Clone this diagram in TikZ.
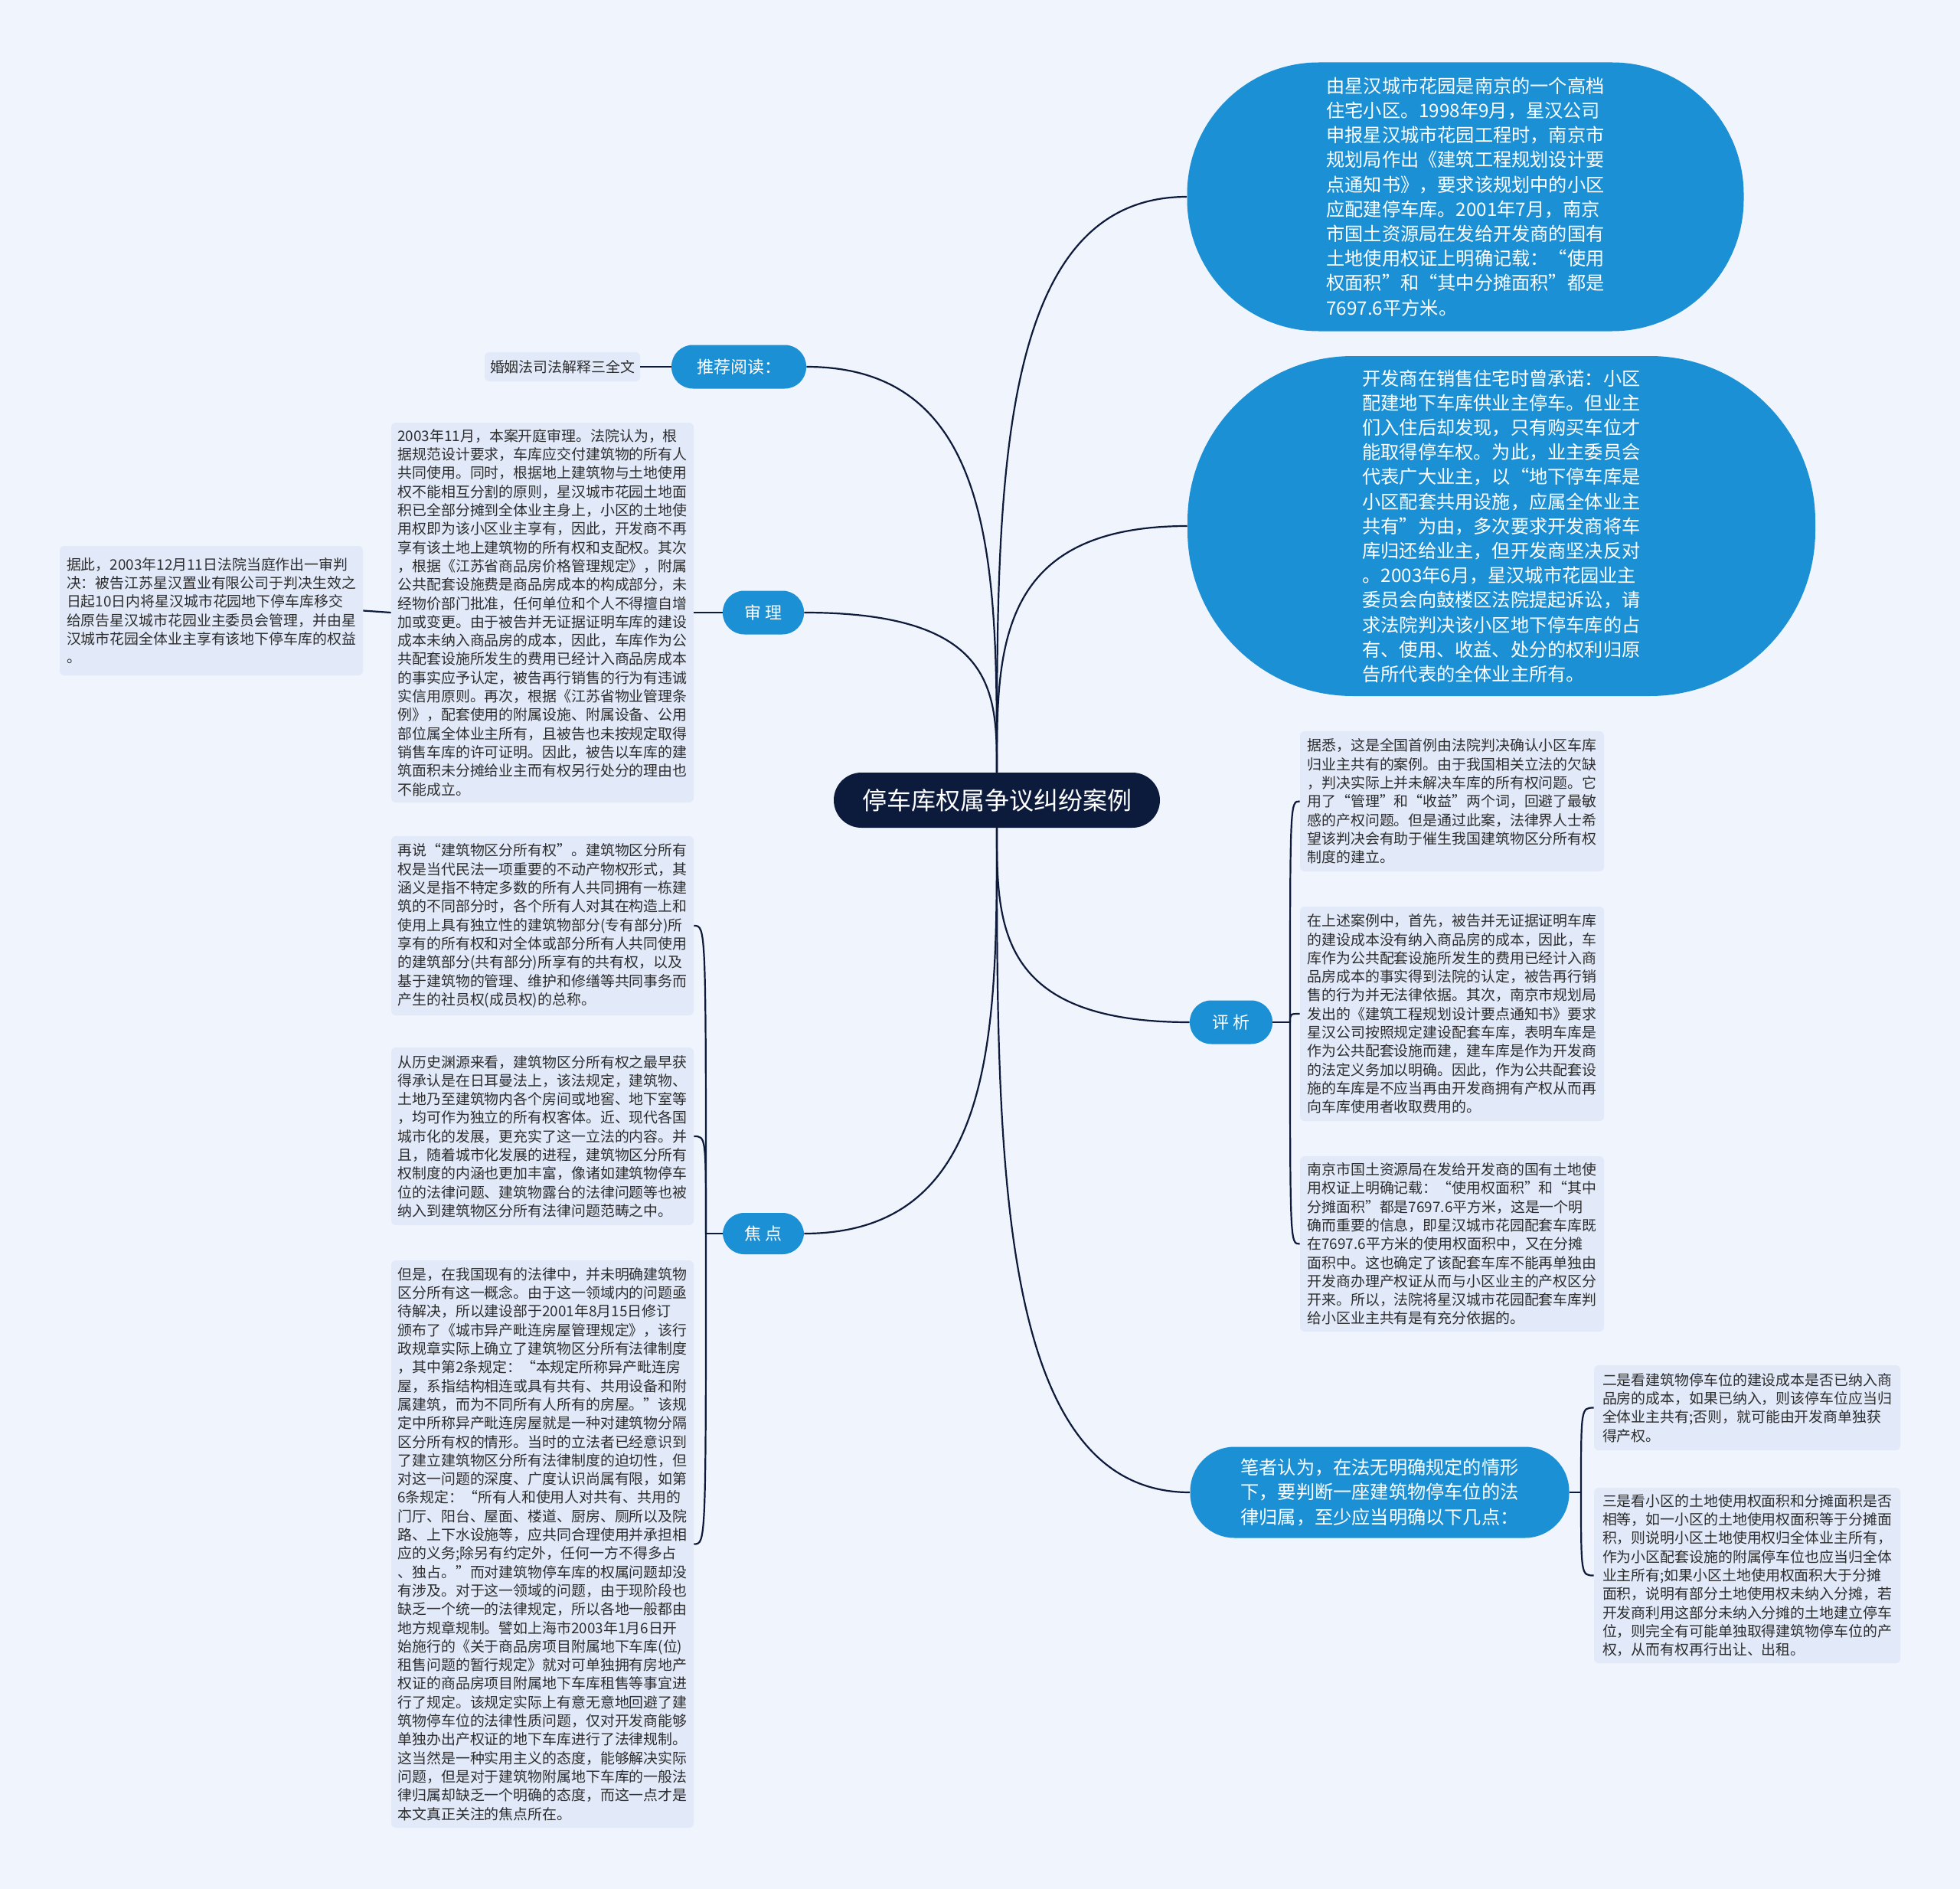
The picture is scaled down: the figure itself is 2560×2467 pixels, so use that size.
\documentclass[tikz,border=0pt]{standalone}
\usepackage{fontspec}
\setmainfont{Noto Sans CJK SC}
\usetikzlibrary{calc}
\definecolor{bgcolor}{RGB}{239,244,253}
\definecolor{cardcolor}{RGB}{226,234,250}
\definecolor{topiccolor}{RGB}{27,144,212}
\definecolor{rootcolor}{RGB}{12,26,60}
\definecolor{linkcolor}{RGB}{14,26,58}
\definecolor{inkcolor}{RGB}{45,45,45}
\tikzset{
  % central title
  rootnode/.style={fill=rootcolor, text=white, rounded corners=18pt, inner sep=0pt,
    font=\fontsize{16}{19}\selectfont},
  % blue topic pills
  topicnode/.style={fill=topiccolor, text=white, rounded corners=14pt, inner sep=0pt,
    font=\fontsize{11}{13}\selectfont},
  % large blue blobs with long text
  blobnode/.style={fill=topiccolor, text=white, inner sep=0pt, align=left,
    font=\fontsize{12.1}{16.1}\selectfont},
  % pale text cards
  card/.style={fill=cardcolor, rounded corners=3pt, inner sep=0pt, align=left,
    text=inkcolor, font=\fontsize{9.45}{12.15}\selectfont},
  % connectors
  link/.style={draw=linkcolor, line width=1.1pt},
}
\newcommand{\rootlink}[2]{%
  \draw[link] (#1) .. controls ($(#1)!0.5!(#1 |- #2)$) and (#1 |- #2) .. (#2);
}
\newcommand{\forklink}[2]{%
  \draw[link] (#1) .. controls (#1 |- #2) and (#1 |- #2) .. (#2);
}
\begin{document}
\begin{tikzpicture}[x=0.5pt, y=-0.5pt]
  \useasboundingbox (0,0) rectangle (2560,2467);
  \fill[bgcolor] (0,0) rectangle (2560,2467);

  % root
  \node[rootnode, minimum width=213pt, minimum height=36pt] (ctr) at (1302,1045) {停车库权属争议纠纷案例};

  % right side
  \node[blobnode, rounded corners=86pt, minimum width=363.5pt, minimum height=175.5pt] (b1) at (1914,257) {%
    由星汉城市花园是南京的一个高档\\
    住宅小区。1998年9月，星汉公司\\
    申报星汉城市花园工程时，南京市\\
    规划局作出《建筑工程规划设计要\\
    点通知书》，要求该规划中的小区\\
    应配建停车库。2001年7月，南京\\
    市国土资源局在发给开发商的国有\\
    土地使用权证上明确记载：“使用\\
    权面积”和“其中分摊面积”都是\\
    7697.6平方米。};
  \node[blobnode, rounded corners=108pt, minimum width=410pt, minimum height=222pt] (b2) at (1961,687) {%
    开发商在销售住宅时曾承诺：小区\\
    配建地下车库供业主停车。但业主\\
    们入住后却发现，只有购买车位才\\
    能取得停车权。为此，业主委员会\\
    代表广大业主，以“地下停车库是\\
    小区配套共用设施，应属全体业主\\
    共有”为由，多次要求开发商将车\\
    库归还给业主，但开发商坚决反对\\
    。2003年6月，星汉城市花园业主\\
    委员会向鼓楼区法院提起诉讼，请\\
    求法院判决该小区地下停车库的占\\
    有、使用、收益、处分的权利归原\\
    告所代表的全体业主所有。};
  \node[topicnode, minimum width=54pt, minimum height=28.5pt] (pj) at (1608,1335) {评 析};
  \node[blobnode, rounded corners=29pt, minimum width=247.5pt, minimum height=59.5pt] (bz) at (1802,1949) {%
    笔者认为，在法无明确规定的情形\\
    下，要判断一座建筑物停车位的法\\
    律归属，至少应当明确以下几点：};

  % cards of 评析
  \node[card, minimum width=198.5pt, minimum height=91.5pt] (pj1) at (1896.5,1046.5) {%
    据悉，这是全国首例由法院判决确认小区车库\\
    归业主共有的案例。由于我国相关立法的欠缺\\
    ，判决实际上并未解决车库的所有权问题。它\\
    用了“管理”和“收益”两个词，回避了最敏\\
    感的产权问题。但是通过此案，法律界人士希\\
    望该判决会有助于催生我国建筑物区分所有权\\
    制度的建立。};
  \node[card, minimum width=198.5pt, minimum height=140pt] (pj2) at (1896.5,1324) {%
    在上述案例中，首先，被告并无证据证明车库\\
    的建设成本没有纳入商品房的成本，因此，车\\
    库作为公共配套设施所发生的费用已经计入商\\
    品房成本的事实得到法院的认定，被告再行销\\
    售的行为并无法律依据。其次，南京市规划局\\
    发出的《建筑工程规划设计要点通知书》要求\\
    星汉公司按照规定建设配套车库，表明车库是\\
    作为公共配套设施而建，建车库是作为开发商\\
    的法定义务加以明确。因此，作为公共配套设\\
    施的车库是不应当再由开发商拥有产权从而再\\
    向车库使用者收取费用的。};
  \node[card, minimum width=198.5pt, minimum height=114.5pt] (pj3) at (1896.5,1624.5) {%
    南京市国土资源局在发给开发商的国有土地使\\
    用权证上明确记载：“使用权面积”和“其中\\
    分摊面积”都是7697.6平方米，这是一个明\\
    确而重要的信息，即星汉城市花园配套车库既\\
    在7697.6平方米的使用权面积中，又在分摊\\
    面积中。这也确定了该配套车库不能再单独由\\
    开发商办理产权证从而与小区业主的产权区分\\
    开来。所以，法院将星汉城市花园配套车库判\\
    给小区业主共有是有充分依据的。};

  % cards of 笔者认为
  \node[card, minimum width=200pt, minimum height=55.5pt] (bz1) at (2282,1838.5) {%
    二是看建筑物停车位的建设成本是否已纳入商\\
    品房的成本，如果已纳入，则该停车位应当归\\
    全体业主共有;否则，就可能由开发商单独获\\
    得产权。};
  \node[card, minimum width=200pt, minimum height=114.5pt] (bz2) at (2282,2057.5) {%
    三是看小区的土地使用权面积和分摊面积是否\\
    相等，如一小区的土地使用权面积等于分摊面\\
    积，则说明小区土地使用权归全体业主所有，\\
    作为小区配套设施的附属停车位也应当归全体\\
    业主所有;如果小区土地使用权面积大于分摊\\
    面积，说明有部分土地使用权未纳入分摊，若\\
    开发商利用这部分未纳入分摊的土地建立停车\\
    位，则完全有可能单独取得建筑物停车位的产\\
    权，从而有权再行出让、出租。};

  % left side
  \node[topicnode, minimum width=88pt, minimum height=28.5pt] (tj) at (965,479) {推荐阅读：};
  \node[card, minimum width=101.5pt, minimum height=19pt] (hy) at (734.5,479) {婚姻法司法解释三全文};
  \node[topicnode, minimum width=53pt, minimum height=28.5pt] (sl) at (997,800) {审 理};
  \node[topicnode, minimum width=53pt, minimum height=27pt] (jd) at (997,1611) {焦 点};

  % cards of 审理
  \node[card, minimum width=197.5pt, minimum height=248pt] (sl1) at (708.5,800) {%
    2003年11月，本案开庭审理。法院认为，根\\
    据规范设计要求，车库应交付建筑物的所有人\\
    共同使用。同时，根据地上建筑物与土地使用\\
    权不能相互分割的原则，星汉城市花园土地面\\
    积已全部分摊到全体业主身上，小区的土地使\\
    用权即为该小区业主享有，因此，开发商不再\\
    享有该土地上建筑物的所有权和支配权。其次\\
    ，根据《江苏省商品房价格管理规定》，附属\\
    公共配套设施费是商品房成本的构成部分，未\\
    经物价部门批准，任何单位和个人不得擅自增\\
    加或变更。由于被告并无证据证明车库的建设\\
    成本未纳入商品房的成本，因此，车库作为公\\
    共配套设施所发生的费用已经计入商品房成本\\
    的事实应予认定，被告再行销售的行为有违诚\\
    实信用原则。再次，根据《江苏省物业管理条\\
    例》，配套使用的附属设施、附属设备、公用\\
    部位属全体业主所有，且被告也未按规定取得\\
    销售车库的许可证明。因此，被告以车库的建\\
    筑面积未分摊给业主而有权另行处分的理由也\\
    不能成立。};
  \node[card, minimum width=198pt, minimum height=84.5pt] (sl2) at (276,797.5) {%
    据此，2003年12月11日法院当庭作出一审判\\
    决：被告江苏星汉置业有限公司于判决生效之\\
    日起10日内将星汉城市花园地下停车库移交\\
    给原告星汉城市花园业主委员会管理，并由星\\
    汉城市花园全体业主享有该地下停车库的权益\\
    。};

  % cards of 焦点
  \node[card, minimum width=197.5pt, minimum height=117pt] (jd1) at (708.5,1209) {%
    再说“建筑物区分所有权”。建筑物区分所有\\
    权是当代民法一项重要的不动产物权形式，其\\
    涵义是指不特定多数的所有人共同拥有一栋建\\
    筑的不同部分时，各个所有人对其在构造上和\\
    使用上具有独立性的建筑物部分(专有部分)所\\
    享有的所有权和对全体或部分所有人共同使用\\
    的建筑部分(共有部分)所享有的共有权，以及\\
    基于建筑物的管理、维护和修缮等共同事务而\\
    产生的社员权(成员权)的总称。};
  \node[card, minimum width=197.5pt, minimum height=116pt] (jd2) at (708.5,1484) {%
    从历史渊源来看，建筑物区分所有权之最早获\\
    得承认是在日耳曼法上，该法规定，建筑物、\\
    土地乃至建筑物内各个房间或地窖、地下室等\\
    ，均可作为独立的所有权客体。近、现代各国\\
    城市化的发展，更充实了这一立法的内容。并\\
    且，随着城市化发展的进程，建筑物区分所有\\
    权制度的内涵也更加丰富，像诸如建筑物停车\\
    位的法律问题、建筑物露台的法律问题等也被\\
    纳入到建筑物区分所有法律问题范畴之中。};
  \node[card, minimum width=197.5pt, minimum height=370.5pt] (jd3) at (708.5,2016.5) {%
    但是，在我国现有的法律中，并未明确建筑物\\
    区分所有这一概念。由于这一领域内的问题亟\\
    待解决，所以建设部于2001年8月15日修订\\
    颁布了《城市异产毗连房屋管理规定》，该行\\
    政规章实际上确立了建筑物区分所有法律制度\\
    ，其中第2条规定：“本规定所称异产毗连房\\
    屋，系指结构相连或具有共有、共用设备和附\\
    属建筑，而为不同所有人所有的房屋。”该规\\
    定中所称异产毗连房屋就是一种对建筑物分隔\\
    区分所有权的情形。当时的立法者已经意识到\\
    了建立建筑物区分所有法律制度的迫切性，但\\
    对这一问题的深度、广度认识尚属有限，如第\\
    6条规定：“所有人和使用人对共有、共用的\\
    门厅、阳台、屋面、楼道、厨房、厕所以及院\\
    路、上下水设施等，应共同合理使用并承担相\\
    应的义务;除另有约定外，任何一方不得多占\\
    、独占。”而对建筑物停车库的权属问题却没\\
    有涉及。对于这一领域的问题，由于现阶段也\\
    缺乏一个统一的法律规定，所以各地一般都由\\
    地方规章规制。譬如上海市2003年1月6日开\\
    始施行的《关于商品房项目附属地下车库(位)\\
    租售问题的暂行规定》就对可单独拥有房地产\\
    权证的商品房项目附属地下车库租售等事宜进\\
    行了规定。该规定实际上有意无意地回避了建\\
    筑物停车位的法律性质问题，仅对开发商能够\\
    单独办出产权证的地下车库进行了法律规制。\\
    这当然是一种实用主义的态度，能够解决实际\\
    问题，但是对于建筑物附属地下车库的一般法\\
    律归属却缺乏一个明确的态度，而这一点才是\\
    本文真正关注的焦点所在。};

  % root links
  \rootlink{ctr.north}{b1.west}
  \rootlink{ctr.north}{b2.west}
  \rootlink{ctr.north}{tj.east}
  \rootlink{ctr.north}{sl.east}
  \rootlink{ctr.south}{pj.west}
  \rootlink{ctr.south}{bz.west}
  \rootlink{ctr.south}{jd.east}

  % single children
  \draw[link] (tj.west) -- (hy.east);
  \draw[link] (sl.west) -- (sl1.west -| sl1.east);
  \draw[link] (sl1.west) -- (sl2.east);

  % forks
  \coordinate (pjk) at (1685,1335);
  \coordinate (bzk) at (2065,1949);
  \coordinate (jdk) at (922,1611);
  \draw[link] (pj.east) -- (pjk);
  \forklink{pjk}{pj1.west}
  \forklink{pjk}{pj2.west}
  \forklink{pjk}{pj3.west}
  \draw[link] (bz.east) -- (bzk);
  \forklink{bzk}{bz1.west}
  \forklink{bzk}{bz2.west}
  \draw[link] (jd.west) -- (jdk);
  \forklink{jdk}{jd1.east}
  \forklink{jdk}{jd2.east}
  \forklink{jdk}{jd3.east}
\end{tikzpicture}
\end{document}
